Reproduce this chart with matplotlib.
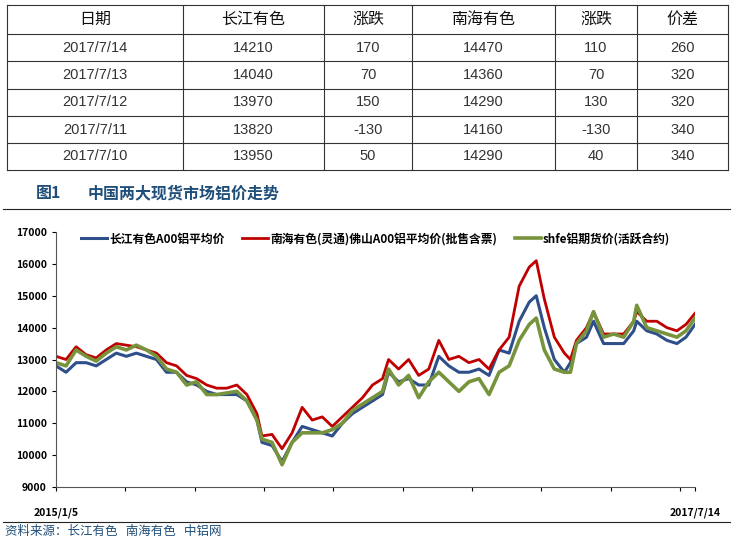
import matplotlib.pyplot as plt
from matplotlib.lines import Line2D

plt.rcParams['font.family'] = ['Noto Sans CJK SC', 'DejaVu Sans']

# table data
headers = ['日期', '长江有色', '涨跌', '南海有色', '涨跌', '价差']
dates = ['2017/7/14', '2017/7/13', '2017/7/12', '2017/7/11', '2017/7/10']
cj_price = [14210, 14040, 13970, 13820, 13950]
cj_chg = [170, 70, 150, -130, 50]
nh_price = [14470, 14360, 14290, 14160, 14290]
nh_chg = [110, 70, 130, -130, 40]
spread = [260, 320, 320, 340, 340]

# chart data (trading-day index since 2015/1/5)
days = [0, 10, 20, 30, 40, 50, 60, 70, 80, 90, 100, 110, 120, 130, 140, 150,
        160, 170, 180, 190, 200, 205, 215, 225, 235, 245, 255, 265, 275, 285,
        295, 305, 315, 325, 331, 341, 351, 361, 371, 381, 391, 401, 411, 421,
        431, 441, 451, 461, 471, 478, 486, 496, 506, 512, 518, 528, 535, 545,
        555, 565, 575, 578, 588, 598, 608, 618, 627, 636]
changjiang = [12800, 12600, 12900, 12900, 12800, 13000, 13200, 13100, 13200, 13100,
              13000, 12600, 12600, 12300, 12200, 12000, 11900, 11900, 11900, 11700,
              11100, 10400, 10300, 9800, 10400, 10900, 10800, 10700, 10600, 11000,
              11300, 11500, 11700, 11900, 12600, 12300, 12400, 12200, 12200, 13100,
              12800, 12600, 12600, 12700, 12500, 13300, 13200, 14200, 14800, 15000,
              14000, 13000, 12600, 12900, 13500, 13700, 14200, 13500, 13500, 13500,
              13900, 14200, 13900, 13800, 13600, 13500, 13700, 14100]
nanhai = [13100, 13000, 13400, 13150, 13050, 13300, 13500, 13450, 13400, 13300,
          13200, 12900, 12800, 12500, 12400, 12200, 12100, 12100, 12200, 11900,
          11300, 10600, 10650, 10200, 10700, 11500, 11100, 11200, 10900, 11200,
          11500, 11800, 12200, 12400, 13000, 12700, 13000, 12500, 12700, 13600,
          13000, 13100, 12900, 13000, 12700, 13300, 13700, 15300, 15900, 16100,
          14900, 13700, 13200, 13000, 13600, 14000, 14500, 13800, 13800, 13800,
          14200, 14500, 14200, 14200, 14000, 13900, 14100, 14450]
shfe = [12900, 12800, 13300, 13100, 12950, 13200, 13400, 13300, 13450, 13300,
        13100, 12700, 12600, 12200, 12300, 11900, 11900, 11950, 12000, 11700,
        11100, 10500, 10400, 9700, 10400, 10700, 10700, 10700, 10800, 11000,
        11400, 11600, 11800, 12000, 12700, 12200, 12500, 11800, 12300, 12600,
        12300, 12000, 12300, 12400, 11900, 12600, 12800, 13600, 14100, 14300,
        13300, 12700, 12600, 12600, 13500, 13900, 14500, 13700, 13800, 13700,
        14200, 14700, 14000, 13900, 13800, 13700, 13900, 14300]

W, H = 736, 539
fig = plt.figure(figsize=(7.36, 5.39), dpi=100)

def fx(px):
    return px / W

def fy(py):
    return 1 - py / H

# table
col_x = [7, 183, 324, 412, 555, 637, 728]
row_y = [5, 34, 61, 89, 116, 143, 170]
for y in row_y:
    fig.add_artist(Line2D([fx(col_x[0]), fx(col_x[-1])], [fy(y), fy(y)], color='#333333', lw=0.8))
for x in col_x:
    fig.add_artist(Line2D([fx(x), fx(x)], [fy(row_y[0]), fy(row_y[-1])], color='#333333', lw=0.8))
rows = [[d, str(a), str(b), str(c), str(e), str(f)]
        for d, a, b, c, e, f in zip(dates, cj_price, cj_chg, nh_price, nh_chg, spread)]
for j, h in enumerate(headers):
    cx = (col_x[j] + col_x[j + 1]) / 2
    fig.text(fx(cx), fy((row_y[0] + row_y[1]) / 2), h, ha='center', va='center', fontsize=11.5, color='#111111')
for i, r in enumerate(rows):
    cy = (row_y[i + 1] + row_y[i + 2]) / 2
    for j, v in enumerate(r):
        cx = (col_x[j] + col_x[j + 1]) / 2
        fig.text(fx(cx), fy(cy), v, ha='center', va='center', fontsize=10.5, color='#333333',
                 family=['Liberation Sans Narrow', 'Liberation Sans', 'DejaVu Sans'])

# figure title
fig.text(fx(36), fy(193), '图1', ha='left', va='center', fontsize=11.5, fontweight='bold', color='#1f4e79')
fig.text(fx(88), fy(193), '中国两大现货市场铝价走势', ha='left', va='center', fontsize=11.5,
         fontweight='bold', color='#1f4e79')
fig.add_artist(Line2D([fx(3), fx(730)], [fy(209), fy(209)], color='#222222', lw=0.8))
fig.add_artist(Line2D([fx(3), fx(730)], [fy(522), fy(522)], color='#222222', lw=0.8))
fig.text(fx(5), fy(531), '资料来源：长江有色   南海有色   中铝网', ha='left', va='center', fontsize=9,
         style='italic', color='#1f4e79')

# chart
ax = fig.add_axes([fx(56), fy(487), fx(695 - 56), fy(232) - fy(487)])
ax.plot(days, changjiang, color='#2e4f8a', lw=2.2, label='长江有色A00铝平均价')
ax.plot(days, nanhai, color='#c00000', lw=2.0, label='南海有色(灵通)佛山A00铝平均价(批售含票)')
ax.plot(days, shfe, color='#77933c', lw=2.6, label='shfe铝期货价(活跃合约)')
ax.set_xlim(0, 636)
ax.set_ylim(9000, 17000)
ax.set_yticks(range(9000, 17001, 1000))
ax.tick_params(axis='y', labelsize=7.5, length=3, direction='out')
for lab in ax.get_yticklabels():
    lab.set_fontweight('bold')
xt = list(range(0, 636, 69)) + [636]
ax.set_xticks(xt)
ax.set_xticklabels(['2015/1/5'] + [''] * (len(xt) - 2) + ['2017/7/14'], fontsize=7.5, fontweight='bold')
ax.tick_params(axis='x', length=3, direction='out', pad=12)
for s in ['top', 'right']:
    ax.spines[s].set_visible(False)
for s in ['left', 'bottom']:
    ax.spines[s].set_color('#555555')
ax.legend(loc='upper center', ncol=3, frameon=False, fontsize=8.5, handlelength=2.2,
          handletextpad=0.2, columnspacing=1.5, bbox_to_anchor=(0.5, 1.04),
          prop={'weight': 'bold', 'size': 8.5})

fig.savefig('out.png', dpi=100)
